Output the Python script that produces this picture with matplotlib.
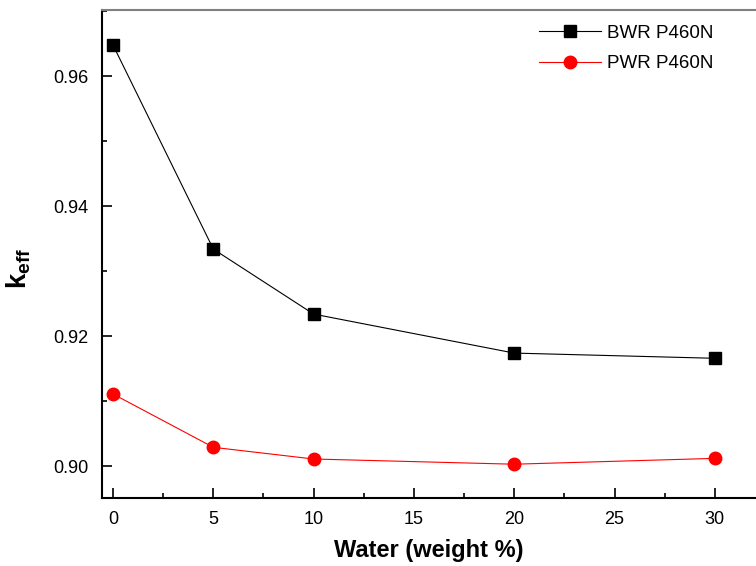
import matplotlib
matplotlib.use('Agg')
import matplotlib.pyplot as plt
from matplotlib.ticker import MultipleLocator

# Dados
water = [0, 5, 10, 20, 30]
keff_bwr = [0.9648, 0.9334, 0.9234, 0.9174, 0.9166]
keff_pwr = [0.9111, 0.9029, 0.9011, 0.9003, 0.9012]
labels = ['BWR P460N', 'PWR P460N']

plt.rcParams['font.family'] = ['Liberation Sans', 'DejaVu Sans']
plt.rcParams['mathtext.fontset'] = 'custom'
plt.rcParams['mathtext.rm'] = 'Liberation Sans'
plt.rcParams['mathtext.bf'] = 'Liberation Sans:bold'

fig = plt.figure(figsize=(7.56, 5.66), dpi=100)
ax = fig.add_axes([102 / 756, 1 - 498 / 566, 1 - 102 / 756, (498 - 10) / 566])

ax.plot(water, keff_bwr, '-s', color='black', lw=0.8, ms=8, label=labels[0])
ax.plot(water, keff_pwr, '-o', color='red', lw=0.8, ms=9, label=labels[1])

ax.set_xlim(-0.55, 32.05)
ax.set_ylim(0.8951, 0.9702)
ax.xaxis.set_major_locator(MultipleLocator(5))
ax.xaxis.set_minor_locator(MultipleLocator(2.5))
ax.yaxis.set_major_locator(MultipleLocator(0.02))
ax.yaxis.set_minor_locator(MultipleLocator(0.01))
ax.yaxis.set_major_formatter(matplotlib.ticker.FormatStrFormatter('%.2f'))

ax.tick_params(which='both', direction='in', top=False, right=False, labelsize=13, width=1.2)
ax.tick_params(which='major', length=7)
ax.tick_params(which='minor', length=3.5)
ax.tick_params(axis='x', pad=9)
ax.tick_params(axis='y', pad=10)

ax.spines['right'].set_visible(False)
ax.spines['top'].set_color('#808080')
ax.spines['top'].set_linewidth(1.5)
ax.spines['left'].set_linewidth(1.5)
ax.spines['bottom'].set_linewidth(1.5)

ax.set_xlabel('Water (weight %)', fontsize=17, fontweight='bold', labelpad=8)
ax.set_ylabel(r'$\mathbf{k_{eff}}$', fontsize=20)
ax.yaxis.set_label_coords(-0.106, 0.47)

ax.legend(loc='upper right', bbox_to_anchor=(0.96, 1.004), frameon=False,
          fontsize=13.5, handlelength=3.3, labelspacing=0.7, handletextpad=0.3)

plt.savefig('out.png', dpi=100)
